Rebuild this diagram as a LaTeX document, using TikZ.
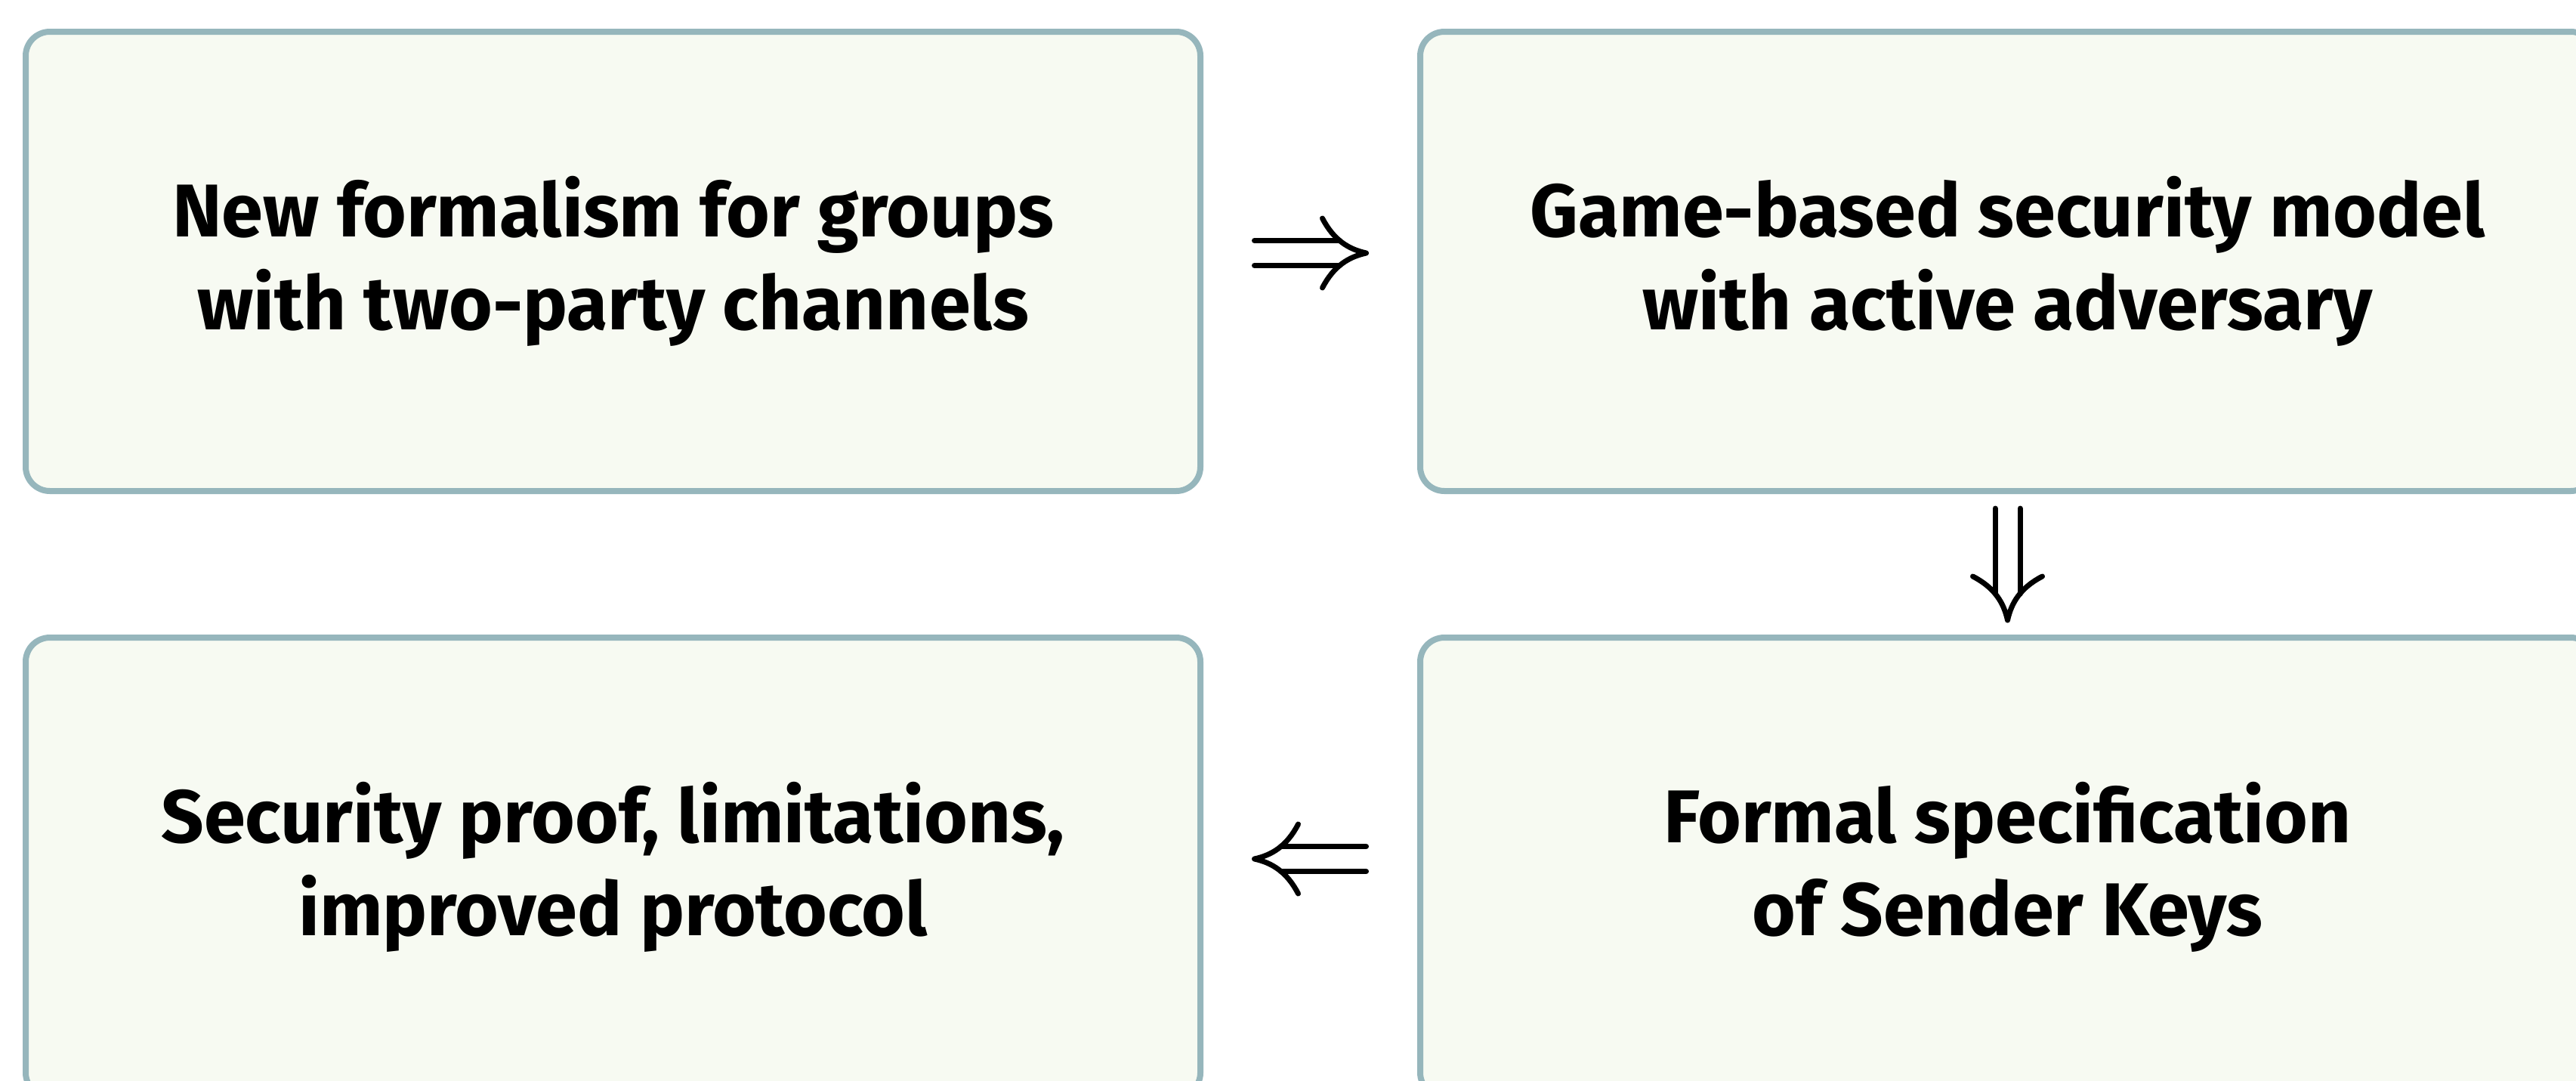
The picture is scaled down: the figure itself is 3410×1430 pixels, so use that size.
\documentclass[tikz,border=0pt]{standalone}
\usepackage{fontspec}
\setmainfont{Fira Sans}
\usetikzlibrary{calc}
\definecolor{boxline}{RGB}{150,182,188}
\definecolor{boxfill}{RGB}{247,250,242}
\tikzset{
  stepbox/.style={draw=boxline, fill=boxfill, line width=4pt, rounded corners=16pt,
    minimum width=777.5pt, minimum height=304pt, inner sep=0pt, align=center,
    font=\fontsize{49.5}{61.5}\selectfont\bfseries},
  arrline/.style={line width=3.5pt, line cap=round, line join=round},
  dblarrow/.pic={
    \draw[arrline] (-74,-16.5) -- (39,-16.5) (-74,16.5) -- (39,16.5);
    \draw[arrline] (16,-46) .. controls (31,-17) and (51,-5) .. (74,0)
                           .. controls (51,5) and (31,17) .. (16,46);
  }
}
\begin{document}
\begin{tikzpicture}[x=0.5pt,y=-0.5pt]
\useasboundingbox (0,0) rectangle (3410,1430);
\node[stepbox] (tl) at (811.5,346) {New formalism for groups\\with two-party channels};
\node[stepbox] (tr) at (2657.5,346) {Game-based security model\\with active adversary};
\node[stepbox] (bl) at (811.5,1148) {Security proof, limitations,\\improved protocol};
\node[stepbox] (br) at (2657.5,1148) {Formal specification\\of Sender Keys};
\path ($(tl.east)+(0,-11)$) -- ($(tr.west)+(0,-11)$) pic[pos=0.5, sloped, allow upside down] {dblarrow};
\path (tr.south) -- (br.north) pic[pos=0.5, sloped, allow upside down] {dblarrow};
\path ($(br.west)+(0,-11)$) -- ($(bl.east)+(0,-11)$) pic[pos=0.5, sloped, allow upside down] {dblarrow};
\end{tikzpicture}
\end{document}
